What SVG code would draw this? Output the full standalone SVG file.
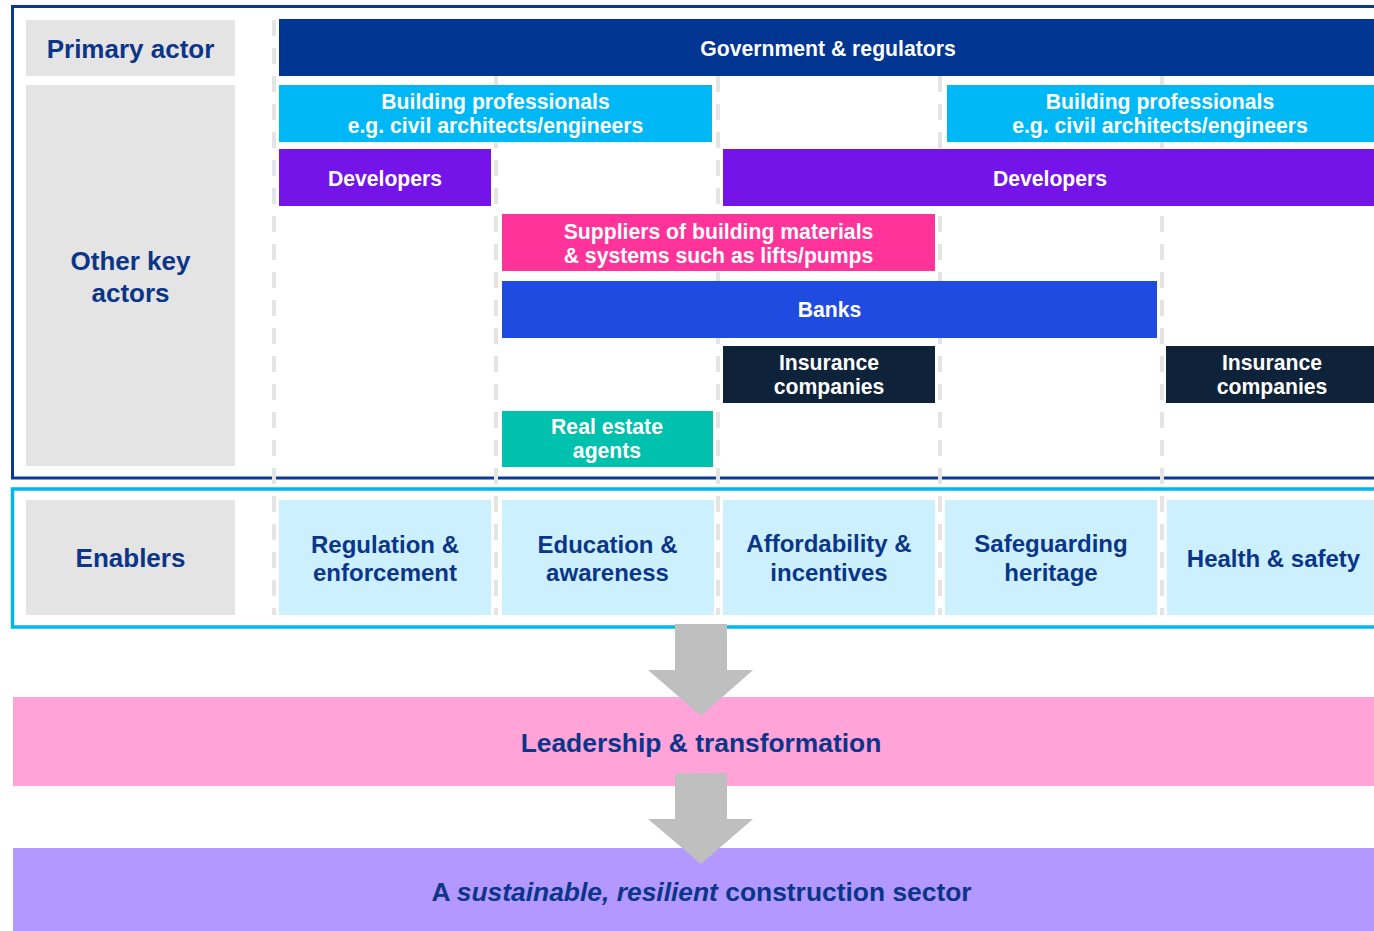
<svg xmlns="http://www.w3.org/2000/svg" width="1374" height="931" viewBox="0 0 1374 931">
  <style>
    text { font-family: "Liberation Sans", Arial, sans-serif; font-weight: bold; text-anchor: middle; }
    .lbl { fill: #E4E4E4; }
    .lbl-t { font-size: 26px; fill: #0B3589; }
    .bar-t { font-size: 21.2px; fill: #FFFFFF; }
    .en { fill: #CCF0FD; }
    .en-t { font-size: 24px; fill: #0B3589; }
    .band-t { font-size: 26.4px; fill: #0B3589; }
    .grid { stroke: #E4E4E4; stroke-width: 4; stroke-dasharray: 16 12; fill: none; }
    .arrow { fill: #BFBFBF; }
  </style>

  <rect width="1374" height="931" fill="#FFFFFF"/>

  <!-- frames -->
  <rect x="12.5" y="6.5" width="1400" height="471.5" fill="none" stroke="#0A3A8F" stroke-width="3"/>
  <rect x="12.5" y="489" width="1400" height="138" fill="none" stroke="#00B8F0" stroke-width="3.5"/>

  <!-- column guides -->
  <g id="grid">
    <line class="grid" x1="274" y1="20" x2="274" y2="615"/>
    <line class="grid" x1="496" y1="20" x2="496" y2="615"/>
    <line class="grid" x1="718" y1="20" x2="718" y2="615"/>
    <line class="grid" x1="940" y1="20" x2="940" y2="615"/>
    <line class="grid" x1="1162" y1="20" x2="1162" y2="615"/>
  </g>

  <!-- row labels -->
  <g id="label-primary">
    <rect class="lbl" x="26" y="20" width="209" height="56"/>
    <text class="lbl-t" x="130.5" y="58">Primary actor</text>
  </g>
  <g id="label-other">
    <rect class="lbl" x="26" y="85" width="209" height="381"/>
    <text class="lbl-t" x="130.5" y="270">Other key</text>
    <text class="lbl-t" x="130.5" y="302">actors</text>
  </g>
  <g id="label-enablers">
    <rect class="lbl" x="26" y="500" width="209" height="115"/>
    <text class="lbl-t" x="130.5" y="567">Enablers</text>
  </g>

  <!-- actors -->
  <g id="government">
    <rect x="279" y="19" width="1100" height="57" fill="#003591"/>
    <text class="bar-t" x="828" y="56">Government &amp; regulators</text>
  </g>
  <g id="professionals-1">
    <rect x="279" y="85" width="433" height="57" fill="#00B8F5"/>
    <text class="bar-t" x="495.5" y="109">Building professionals</text>
    <text class="bar-t" x="495.5" y="133">e.g. civil architects/engineers</text>
  </g>
  <g id="professionals-2">
    <rect x="947" y="85" width="430" height="57" fill="#00B8F5"/>
    <text class="bar-t" x="1160" y="109">Building professionals</text>
    <text class="bar-t" x="1160" y="133">e.g. civil architects/engineers</text>
  </g>
  <g id="developers-1">
    <rect x="279" y="149" width="212" height="57" fill="#7514E8"/>
    <text class="bar-t" x="385" y="186">Developers</text>
  </g>
  <g id="developers-2">
    <rect x="723" y="149" width="654" height="57" fill="#7514E8"/>
    <text class="bar-t" x="1050" y="186">Developers</text>
  </g>
  <g id="suppliers">
    <rect x="502" y="214" width="433" height="57" fill="#FF3399"/>
    <text class="bar-t" x="718.5" y="239">Suppliers of building materials</text>
    <text class="bar-t" x="718.5" y="263">&amp; systems such as lifts/pumps</text>
  </g>
  <g id="banks">
    <rect x="502" y="281" width="655" height="57" fill="#1F4BE0"/>
    <text class="bar-t" x="829.5" y="317">Banks</text>
  </g>
  <g id="insurance-1">
    <rect x="723" y="346" width="212" height="57" fill="#0E2239"/>
    <text class="bar-t" x="829" y="370">Insurance</text>
    <text class="bar-t" x="829" y="394">companies</text>
  </g>
  <g id="insurance-2">
    <rect x="1166" y="346" width="212" height="57" fill="#0E2239"/>
    <text class="bar-t" x="1272" y="370">Insurance</text>
    <text class="bar-t" x="1272" y="394">companies</text>
  </g>
  <g id="real-estate">
    <rect x="502" y="411" width="211" height="56" fill="#00C0AE"/>
    <text class="bar-t" x="607" y="434">Real estate</text>
    <text class="bar-t" x="607" y="458">agents</text>
  </g>

  <!-- enablers -->
  <g id="enabler-regulation">
    <rect class="en" x="279" y="500" width="212" height="115"/>
    <text class="en-t" x="385" y="553">Regulation &amp;</text>
    <text class="en-t" x="385" y="581">enforcement</text>
  </g>
  <g id="enabler-education">
    <rect class="en" x="502" y="500" width="212" height="115"/>
    <text class="en-t" x="607.5" y="553">Education &amp;</text>
    <text class="en-t" x="607.5" y="581">awareness</text>
  </g>
  <g id="enabler-affordability">
    <rect class="en" x="723" y="500" width="212" height="115"/>
    <text class="en-t" x="829" y="552">Affordability &amp;</text>
    <text class="en-t" x="829" y="581">incentives</text>
  </g>
  <g id="enabler-heritage">
    <rect class="en" x="945" y="500" width="212" height="115"/>
    <text class="en-t" x="1051" y="552">Safeguarding</text>
    <text class="en-t" x="1051" y="581">heritage</text>
  </g>
  <g id="enabler-health">
    <rect class="en" x="1167" y="500" width="212" height="115"/>
    <text class="en-t" x="1273.5" y="567">Health &amp; safety</text>
  </g>

  <!-- outcome bands -->
  <g id="leadership">
    <rect x="13" y="697" width="1380" height="89" fill="#FFA3D8"/>
    <text class="band-t" x="701" y="752">Leadership &amp; transformation</text>
  </g>
  <g id="sector">
    <rect x="13" y="848" width="1380" height="83" fill="#B399FF"/>
    <text class="band-t" x="701.5" y="901">A <tspan font-style="italic">sustainable,</tspan> <tspan font-style="italic">resilient</tspan> construction sector</text>
  </g>

  <!-- flow arrows -->
  <g id="connectors">
    <polygon class="arrow" points="675,624 727,624 727,670 753,670 701,716 648,670 675,670"/>
    <polygon class="arrow" points="675,773 727,773 727,819 753,819 701,864 648,819 675,819"/>
  </g>
</svg>
